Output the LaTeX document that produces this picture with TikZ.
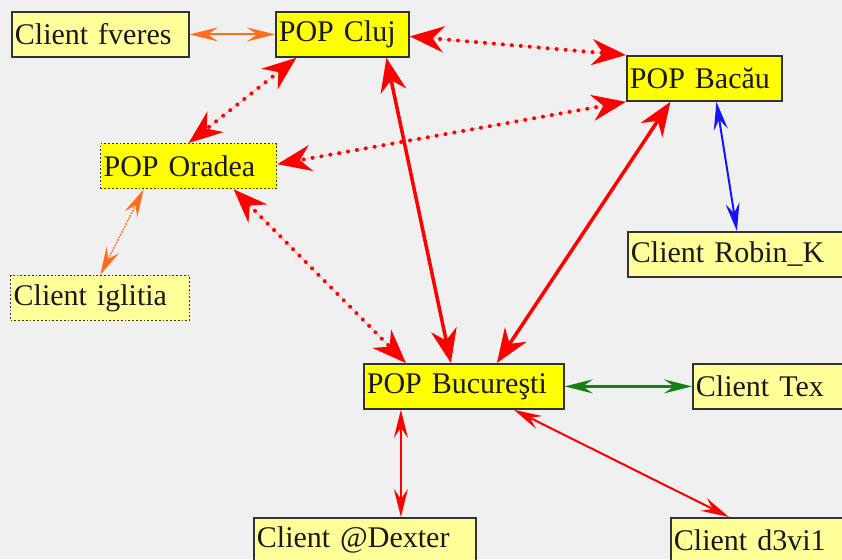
\documentclass[tikz,border=0pt]{standalone}
\usepackage{fontspec}
\setmainfont{Liberation Serif}
\usetikzlibrary{arrows.meta}

\definecolor{bg}{RGB}{240,240,240}
\definecolor{popfill}{RGB}{255,255,0}
\definecolor{clifill}{RGB}{255,255,153}
\definecolor{boxline}{RGB}{50,50,50}
\definecolor{txt}{RGB}{25,25,25}
\definecolor{linkred}{RGB}{255,0,0}
\definecolor{linkorange}{RGB}{255,110,30}
\definecolor{linkblue}{RGB}{20,20,255}
\definecolor{linkgreen}{RGB}{20,130,20}

\tikzset{
  box/.style={draw=boxline, line width=1.8pt, anchor=north west,
    minimum height=45pt, inner xsep=3pt, inner ysep=0pt, align=left,
    text=txt, font=\fontsize{30}{36}\selectfont},
  pop/.style={box, fill=popfill},
  cli/.style={box, fill=clifill},
  dotborder/.style={dotted, line width=1.3pt},
  bigtips/.style={{Stealth[length=34pt,width=26pt,inset=11pt]}-{Stealth[length=34pt,width=26pt,inset=11pt]}},
  smalltips/.style={{Stealth[length=28pt,width=14pt,inset=10pt]}-{Stealth[length=28pt,width=14pt,inset=10pt]}},
  backbone/.style={draw=linkred, fill=linkred, line width=3.5pt, bigtips},
  dotlink/.style={draw=linkred, fill=linkred, line width=4pt, line cap=round,
    dash pattern=on 0pt off 9pt, bigtips},
  thinlink/.style={line width=2pt, smalltips},
}

\begin{document}
\begin{tikzpicture}[x=1pt, y=-1pt]
  \fill[bg] (0,0) rectangle (842,559);
  \useasboundingbox (0,0) rectangle (842,559);
  \clip (0,0) rectangle (842,559);

  % points of presence
  \node[pop, text width=127pt] (cluj) at (275,11) {POP Cluj};
  \node[pop, text width=149pt] (bacau) at (626,55) {POP Bacău};
  \node[pop, dotborder, text width=170pt] (oradea) at (100,143) {POP Oradea};
  \node[pop, text width=194pt] (buc) at (363,363) {POP Bucureşti};

  % clients
  \node[cli, text width=171pt] (fveres) at (11,11) {Client fveres};
  \node[cli, text width=212pt] (robin) at (627,231) {Client Robin\_K};
  \node[cli, dotborder, text width=173pt] (iglitia) at (10,275) {Client iglitia};
  \node[cli, text width=164pt] (tex) at (692,363) {Client Tex};
  \node[cli, text width=216pt] (dexter) at (253,517) {Client @Dexter};
  \node[cli, text width=184pt] (d3vil) at (670,517) {Client d3vi1};

  % backbone links between the POPs
  \draw[dotlink] ([yshift=-2pt]cluj.east) -- (bacau.north west);
  \draw[dotlink] ([xshift=-46pt]cluj.south) -- (oradea.north);
  \draw[dotlink] (bacau.south west) -- ([yshift=2pt]oradea.east);
  \draw[dotlink] ([xshift=45pt]oradea.south) -- ([xshift=-58pt]buc.north);
  \draw[backbone] ([xshift=44pt]cluj.south) -- ([xshift=-13pt]buc.north);
  \draw[backbone] ([xshift=-34pt]bacau.south) -- ([xshift=33pt]buc.north);

  % client access links
  \draw[thinlink, draw=linkorange, fill=linkorange] (fveres.east) -- (cluj.west);
  \draw[thinlink, draw=linkorange, fill=linkorange, line width=1.5pt,
        dash pattern=on 1.5pt off 1.5pt] ([xshift=-45pt]oradea.south) -- (iglitia.north);
  \draw[thinlink, draw=linkblue, fill=linkblue] ([xshift=12pt]bacau.south) -- (robin.north);
  \draw[thinlink, draw=linkgreen, fill=linkgreen, line width=2.5pt] (buc.east) -- (tex.west);
  \draw[thinlink, draw=linkred, fill=linkred] ([xshift=-63pt]buc.south) -- ([xshift=36pt]dexter.north);
  \draw[thinlink, draw=linkred, fill=linkred] ([xshift=50pt]buc.south) -- ([xshift=-37pt]d3vil.north);
\end{tikzpicture}
\end{document}
